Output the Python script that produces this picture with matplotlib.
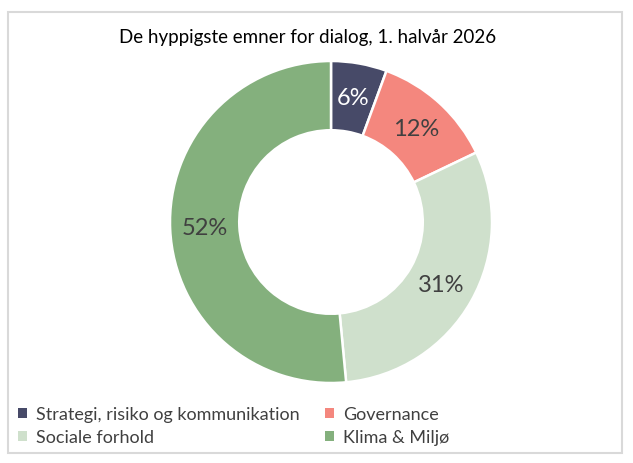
import matplotlib
matplotlib.use('Agg')
import matplotlib.pyplot as plt
from matplotlib.patches import Rectangle, Patch
import numpy as np

# data
categories = ['Strategi, risiko og kommunikation', 'Governance', 'Sociale forhold', 'Klima & Miljø']
shares = [5.6, 12.3, 30.6, 51.5]
share_labels = ['6%', '12%', '31%', '52%']
colors = ['#474A68', '#F4877E', '#CFE0CC', '#84B07D']
label_colors = ['white', '#404040', '#404040', '#404040']

plt.rcParams['font.family'] = ['Lato', 'DejaVu Sans']

W, H = 633, 464
fig = plt.figure(figsize=(W / 100, H / 100), dpi=100)

# light grey chart frame
frame = Rectangle((8 / W, 1 - 454 / H), 614 / W, 441 / H, transform=fig.transFigure,
                  facecolor='none', edgecolor='#D9D9D9', linewidth=1.5, zorder=0)
fig.patches.append(frame)

fig.text(308 / W, 1 - 38 / H, 'De hyppigste emner for dialog, 1. halvår 2026',
         ha='center', va='center', fontsize=13.5, color='black')

cx, cy, r = 331, 223, 161
ax = fig.add_axes([(cx - r) / W, (H - cy - r) / H, 2 * r / W, 2 * r / H])
wedges, _ = ax.pie(shares, colors=colors, startangle=90, counterclock=False,
                   radius=1.0, wedgeprops=dict(width=0.43, edgecolor='white', linewidth=1.8))
ax.set_xlim(-1, 1)
ax.set_ylim(-1, 1)
ax.set_aspect('equal')
ax.axis('off')

for w, lab, col in zip(wedges, share_labels, label_colors):
    mid = np.deg2rad((w.theta1 + w.theta2) / 2)
    rr = 0.785
    ax.text(rr * np.cos(mid), rr * np.sin(mid), lab, ha='center', va='center',
            fontsize=17, color=col)

# legend fills row by row in the reference
order = [0, 2, 1, 3]
handles = [Patch(facecolor=colors[i], edgecolor='none') for i in order]
labels = [categories[i] for i in order]
fig.legend(handles, labels, loc='upper left', bbox_to_anchor=(11 / W, 1 - 400 / H),
           ncol=2, frameon=False, fontsize=13, labelcolor='#404040',
           handlelength=0.5, handleheight=0.5, handletextpad=0.5,
           columnspacing=1.4, labelspacing=0.4, borderaxespad=0)

plt.savefig('out.png', dpi=100)
